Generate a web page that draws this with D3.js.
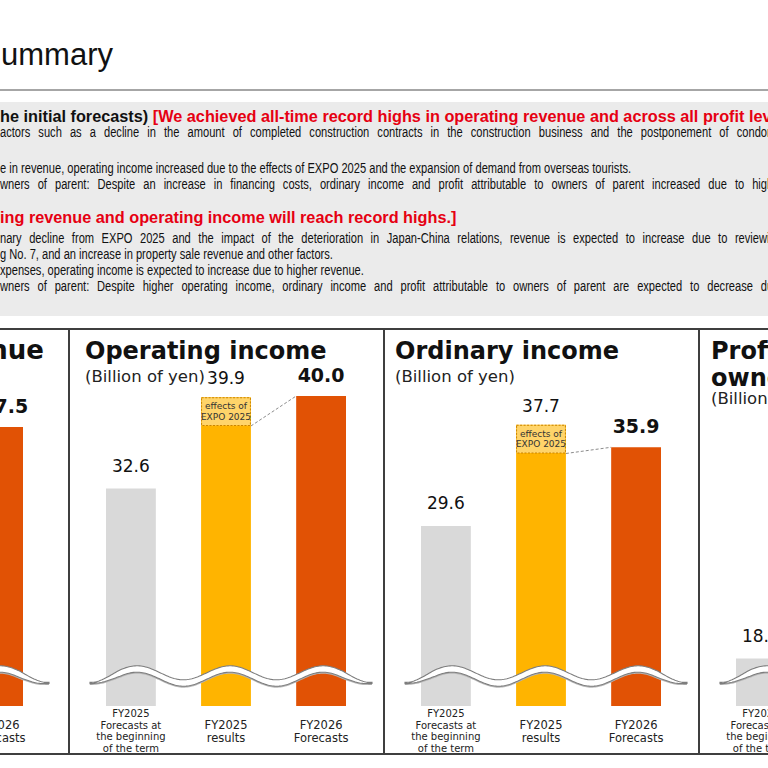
<!DOCTYPE html>
<meta charset="utf-8">
<style>
body { margin: 0; background: #fff; }
svg { display: block; }
</style>
<body>
<script src="https://cdn.jsdelivr.net/npm/d3@7"></script>
<script>

var width = 768,
    height = 768;

// chart data
var categories = ["FY2025 Forecasts at the beginning of the term", "FY2025 results", "FY2026 Forecasts"];
var categoryLines = [["FY2025", "Forecasts at", "the beginning", "of the term"], ["FY2025", "results"], ["FY2026", "Forecasts"]];
var panelTitles = [["Operating revenue"], ["Operating income"], ["Ordinary income"], ["Profit attributable to", "owners of parent"]];
var unitLabel = "(Billion of yen)";
var revenue = [null, null, 337.5];
var operatingIncome = [32.6, 39.9, 40.0];
var ordinaryIncome = [29.6, 37.7, 35.9];
var profit = [18.5, null, null];
var expoEffect = [null, 2.3, 2.3, null];

var pageTitle = "Summary";
var noteLines = [
  [["he initial forecasts) ", "k"], ["[We achieved all-time record highs in operating revenue and across all profit levels.]", "r"]],
  [["actors such as a decline in the amount of completed construction contracts in the construction business and the postponement of condominium sales", "k"]],
  [["e in revenue, operating income increased due to the effects of EXPO 2025 and the expansion of demand from overseas tourists.", "k"]],
  [["wners of parent: Despite an increase in financing costs, ordinary income and profit attributable to owners of parent increased due to higher operating income.", "k"]],
  [["ing revenue and operating income will reach record highs.]", "r"]],
  [["nary decline from EXPO 2025 and the impact of the deterioration in Japan-China relations, revenue is expected to increase due to reviewing", "k"]],
  [["g No. 7, and an increase in property sale revenue and other factors.", "k"]],
  [["xpenses, operating income is expected to increase due to higher revenue.", "k"]],
  [["wners of parent: Despite higher operating income, ordinary income and profit attributable to owners of parent are expected to decrease due to", "k"]]
];
var noteBold = [true, false, false, false, true, false, false, false, false];
var noteY = [122, 137, 173, 189, 223, 243, 259, 275, 291];
// justified lines: text that reaches the right edge of the crop
var noteJustify = [null, "of condo", null, "due to hig", null, "due to review", null, null, "decrease d"];

var barColors = ["#d9d9d9", "#ffb400", "#e15205"];
var inkColors = { k: "#111", r: "#e60012" };

var svg = d3.select("body").append("svg")
    .attr("width", width)
    .attr("height", height);

// page title + rule
svg.append("text")
    .attr("x", 113).attr("y", 65)
    .attr("text-anchor", "end")
    .style("font-family", "'Liberation Sans', Arial, sans-serif")
    .style("font-size", "31px")
    .attr("fill", "#111")
    .text(pageTitle);

svg.append("line")
    .attr("x1", 0).attr("x2", width).attr("y1", 90).attr("y2", 90)
    .attr("stroke", "#a6a6a6").attr("stroke-width", 2);

// notes box
svg.append("rect")
    .attr("x", 0).attr("y", 102).attr("width", width).attr("height", 214)
    .attr("fill", "#ebebeb");

var notes = svg.append("g")
    .style("font-family", "'Liberation Sans Narrow', 'Liberation Sans', Arial, sans-serif");

var noteText = notes.selectAll("text.note")
    .data(noteLines)
  .enter().append("text")
    .attr("class", "note")
    .style("font-size", function(d, i) { return noteBold[i] ? "17px" : "14.5px"; })
    .style("font-weight", function(d, i) { return noteBold[i] ? "bold" : "normal"; });

noteText.selectAll("tspan")
    .data(function(d) { return d; })
  .enter().append("tspan")
    .attr("fill", function(d) { return inkColors[d[1]]; })
    .text(function(d) { return d[0]; });

// narrow the lines to the width of the slide text
var boldScale = 457 / noteText.filter(function(d, i) { return i === 4; }).node().getComputedTextLength();
var plainScale = 632 / noteText.filter(function(d, i) { return i === 2; }).node().getComputedTextLength();
noteText.attr("transform", function(d, i) {
  return "translate(0," + noteY[i] + ") scale(" + (noteBold[i] ? boldScale : plainScale) + ",1)";
});

noteText.each(function(d, i) {
  if (!noteJustify[i]) return;
  var full = d.map(function(s) { return s[0]; }).join("");
  var n = full.indexOf(noteJustify[i]) + noteJustify[i].length;
  var sc = noteBold[i] ? boldScale : plainScale;
  var w = this.getSubStringLength(0, n) * sc;
  var spaces = full.slice(0, n).split(" ").length - 1;
  d3.select(this).style("word-spacing", ((767 - w) / spaces / sc) + "px");
});

// panels
var panels = [
  { values: revenue, left: -254, domain: [225, 350], titleX: 44, anchor: "end", titleSize: 26, unitY: 382 },
  { values: operatingIncome, left: 69, domain: [15.2, 40], titleX: 85, anchor: "start", titleSize: 24, unitY: 382 },
  { values: ordinaryIncome, left: 384, domain: [15.2, 40], titleX: 395, anchor: "start", titleSize: 24, unitY: 382 },
  { values: profit, left: 699, domain: [14.7, 39.5], titleX: 711, anchor: "start", titleSize: 24, unitY: 404 }
];

var frameTop = 329, frameBottom = 754, barBase = 706, barTopRef = 396;
var labelGap = [17, 13, 14];

var frame = svg.append("g").attr("stroke", "#3f3f3f").attr("stroke-width", 2);
frame.append("line").attr("x1", 0).attr("x2", width).attr("y1", frameTop).attr("y2", frameTop);
frame.append("line").attr("x1", 0).attr("x2", width).attr("y1", frameBottom).attr("y2", frameBottom);
panels.slice(1).forEach(function(p) {
  frame.append("line").attr("x1", p.left).attr("x2", p.left).attr("y1", frameTop).attr("y2", frameBottom);
});

var dejavu = "'DejaVu Sans', Verdana, sans-serif";

// axis break ribbon
function waveY(o) { return 676 - 7 * Math.cos(2 * Math.PI * (o - 68) / 93); }
function waveT(o) { return Math.max(0.6, 3.2 * Math.min(1, (o - 21) / 30, (304 - o) / 30)); }

panels.forEach(function(p, pi) {
  var g = svg.append("g");

  var x = d3.scaleBand()
      .domain(categories)
      .range([p.left + 37, p.left + 277])
      .paddingInner(0.476)
      .paddingOuter(0);

  var y = d3.scaleLinear()
      .domain(p.domain)
      .range([barBase, barTopRef]);

  // title
  var title = g.append("text")
      .attr("x", p.titleX).attr("y", 359)
      .attr("text-anchor", p.anchor)
      .style("font-family", dejavu)
      .style("font-weight", "bold")
      .style("font-size", p.titleSize + "px")
      .attr("fill", "#111");
  title.selectAll("tspan")
      .data(panelTitles[pi])
    .enter().append("tspan")
      .attr("x", p.titleX)
      .attr("dy", function(d, i) { return i ? 27 : 0; })
      .text(function(d) { return d; });

  var titleStart = p.anchor === "end" ? p.titleX - title.node().getComputedTextLength() : p.titleX;
  g.append("text")
      .attr("x", titleStart).attr("y", p.unitY)
      .style("font-family", dejavu)
      .style("font-size", "16.5px")
      .attr("fill", "#222")
      .text(unitLabel);

  var rows = categories.map(function(c, i) { return { cat: c, i: i, v: p.values[i] }; })
      .filter(function(d) { return d.v != null; });

  g.selectAll("rect.bar")
      .data(rows)
    .enter().append("rect")
      .attr("class", "bar")
      .attr("x", function(d) { return x(d.cat); })
      .attr("y", function(d) { return y(d.v); })
      .attr("width", x.bandwidth())
      .attr("height", function(d) { return barBase - y(d.v); })
      .attr("fill", function(d) { return barColors[d.i]; });

  // EXPO effect box and connector
  if (expoEffect[pi] != null) {
    var yv = p.values[1], fv = p.values[2];
    var bx = x(categories[1]);
    var boxBottom = y(yv - expoEffect[pi]);
    g.append("line")
        .attr("x1", bx + x.bandwidth()).attr("y1", boxBottom)
        .attr("x2", x(categories[2])).attr("y2", y(fv))
        .attr("stroke", "#8c8c8c").attr("stroke-width", 1)
        .attr("stroke-dasharray", "3,2");
    g.append("rect")
        .attr("x", bx + 0.5).attr("y", y(yv) + 0.5)
        .attr("width", x.bandwidth() - 1)
        .attr("height", boxBottom - y(yv) - 1)
        .attr("fill", "#ffd46a")
        .attr("stroke", "#c98400").attr("stroke-width", 1)
        .attr("stroke-dasharray", "2,1.5");
    g.append("text")
        .attr("x", bx + x.bandwidth() / 2).attr("y", y(yv) + 12)
        .attr("text-anchor", "middle")
        .style("font-family", dejavu).style("font-size", "9px")
        .attr("fill", "#333")
        .selectAll("tspan")
        .data(["effects of", "EXPO 2025"])
      .enter().append("tspan")
        .attr("x", bx + x.bandwidth() / 2)
        .attr("dy", function(d, i) { return i ? 10.5 : 0; })
        .text(function(d) { return d; });
  }

  // value labels
  g.selectAll("text.val")
      .data(rows)
    .enter().append("text")
      .attr("class", "val")
      .attr("x", function(d) { return x(d.cat) + x.bandwidth() / 2; })
      .attr("y", function(d) { return y(d.v) - labelGap[d.i]; })
      .attr("text-anchor", "middle")
      .style("font-family", dejavu)
      .style("font-size", function(d) { return d.i === 2 ? "19px" : "17px"; })
      .style("font-weight", function(d) { return d.i === 2 ? "bold" : "normal"; })
      .attr("fill", "#111")
      .text(function(d) { return d.v.toFixed(1); });

  // break mark
  var offs = d3.range(21, 304.5, 1.5);
  var ribbon = offs.map(function(o) { return [p.left + o, waveY(o) - waveT(o)]; })
      .concat(offs.slice().reverse().map(function(o) { return [p.left + o, waveY(o) + waveT(o)]; }));
  g.append("path")
      .attr("d", "M" + ribbon.join("L") + "Z")
      .attr("transform", "translate(0,1.5)")
      .attr("fill", "#b5b5b5");
  g.append("path")
      .attr("d", "M" + ribbon.join("L") + "Z")
      .attr("fill", "#fff")
      .attr("stroke", "#7d7d7d")
      .attr("stroke-width", 1.1);

  // category labels
  categories.forEach(function(c, i) {
    var small = i === 0;
    g.append("text")
        .attr("text-anchor", "middle")
        .style("font-family", dejavu)
        .style("font-size", small ? "10px" : "11.5px")
        .attr("fill", "#222")
        .selectAll("tspan")
        .data(categoryLines[i])
      .enter().append("tspan")
        .attr("x", x(c) + x.bandwidth() / 2)
        .attr("y", function(d, k) { return small ? 717 + k * 11.7 : 729 + k * 13; })
        .text(function(d) { return d; });
  });
});

</script>
